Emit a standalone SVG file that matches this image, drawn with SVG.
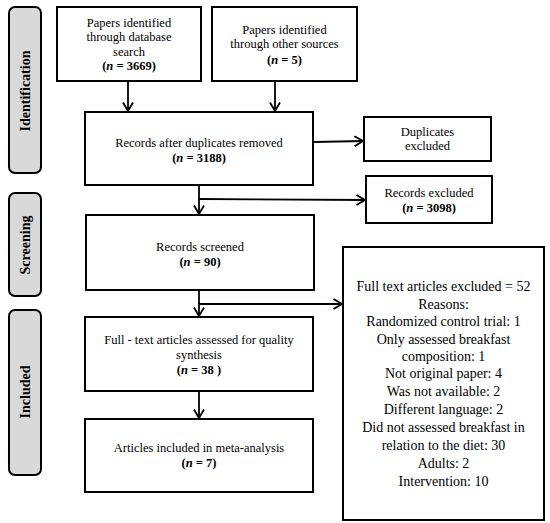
<svg xmlns="http://www.w3.org/2000/svg" width="550" height="523" viewBox="0 0 550 523">
<style>
.box{fill:#fff;stroke:#000;stroke-width:2}
.side{fill:#d9d9d9;stroke:#000;stroke-width:2}
.t{font-family:"Liberation Serif","Times New Roman",serif;font-size:12.5px;text-anchor:middle;fill:#000}
.b{font-weight:bold}
.big{font-size:14px}
.sl{font-family:"Liberation Serif","Times New Roman",serif;font-size:14px;font-weight:bold;text-anchor:middle;fill:#000}
.c{fill:none;stroke:#000;stroke-width:1.8}
</style>
<defs>
<marker id="ah" viewBox="0 0 10 12" refX="9.5" refY="6" markerWidth="10" markerHeight="12" markerUnits="userSpaceOnUse" orient="auto">
<path d="M1,1 L9.5,6 L1,11" fill="none" stroke="#000" stroke-width="1.8"/>
</marker>
</defs>
<rect width="550" height="523" fill="#fff"/>
<g id="phase-identification">
<rect class="side" x="9" y="7" width="32" height="166" rx="6"/>
<text class="sl" transform="translate(30,91) rotate(-90)">Identification</text>
</g>
<g id="phase-screening">
<rect class="side" x="9" y="193" width="32" height="103" rx="6"/>
<text class="sl" transform="translate(30,245) rotate(-90)">Screening</text>
</g>
<g id="phase-included">
<rect class="side" x="9" y="310" width="32" height="165" rx="6"/>
<text class="sl" transform="translate(30,392) rotate(-90)">Included</text>
</g>
<g id="db-search">
<rect class="box" x="57" y="7" width="144" height="74"/>
<text class="t" x="129" y="27">Papers identified</text>
<text class="t" x="129" y="41">through database</text>
<text class="t" x="129" y="56">search</text>
<text class="t b" x="129" y="70">(<tspan font-style="italic">n</tspan> = 3669)</text>
</g>
<g id="other-sources">
<rect class="box" x="212" y="7" width="145" height="74"/>
<text class="t" x="284.5" y="34">Papers identified</text>
<text class="t" x="284.5" y="48">through other sources</text>
<text class="t b" x="284.5" y="64">(<tspan font-style="italic">n</tspan> = 5)</text>
</g>
<g id="after-duplicates">
<rect class="box" x="85" y="112" width="228" height="73"/>
<text class="t" x="199" y="147">Records after duplicates removed</text>
<text class="t b" x="199" y="162">(<tspan font-style="italic">n</tspan> = 3188)</text>
</g>
<g id="duplicates-excluded">
<rect class="box" x="364" y="117" width="127" height="44"/>
<text class="t" x="427.5" y="136">Duplicates</text>
<text class="t" x="427.5" y="150">excluded</text>
</g>
<g id="records-excluded">
<rect class="box" x="366" y="176" width="126" height="47"/>
<text class="t" x="429" y="197">Records excluded</text>
<text class="t b" x="429" y="212">(<tspan font-style="italic">n</tspan> = 3098)</text>
</g>
<g id="records-screened">
<rect class="box" x="86" y="215" width="228" height="75"/>
<text class="t" x="200" y="251">Records screened</text>
<text class="t b" x="200" y="266">(<tspan font-style="italic">n</tspan> = 90)</text>
</g>
<g id="full-text-excluded">
<rect class="box" x="343" y="247" width="201" height="273"/>
<text class="t big" x="443.5" y="291">Full text articles excluded = 52</text>
<text class="t big" x="443.5" y="309">Reasons:</text>
<text class="t big" x="443.5" y="326">Randomized control trial: 1</text>
<text class="t big" x="443.5" y="344">Only assessed breakfast</text>
<text class="t big" x="443.5" y="361">composition: 1</text>
<text class="t big" x="443.5" y="378">Not original paper: 4</text>
<text class="t big" x="443.5" y="396">Was not available: 2</text>
<text class="t big" x="443.5" y="414">Different language: 2</text>
<text class="t big" x="443.5" y="432">Did not assessed breakfast in</text>
<text class="t big" x="443.5" y="450">relation to the diet: 30</text>
<text class="t big" x="443.5" y="468">Adults: 2</text>
<text class="t big" x="443.5" y="486">Intervention: 10</text>
</g>
<g id="full-text-assessed">
<rect class="box" x="85" y="317" width="228" height="74"/>
<text class="t" x="199" y="344">Full - text articles assessed for quality</text>
<text class="t" x="199" y="359">synthesis</text>
<text class="t b" x="199" y="374">(<tspan font-style="italic">n</tspan> = 38 )</text>
</g>
<g id="included-meta">
<rect class="box" x="85" y="419" width="228" height="73"/>
<text class="t" x="199" y="452">Articles included in meta-analysis</text>
<text class="t b" x="199" y="467">(<tspan font-style="italic">n</tspan> = 7)</text>
</g>
<g id="connectors">
<line class="c" x1="128" y1="82" x2="128" y2="111" marker-end="url(#ah)"/>
<line class="c" x1="275" y1="82" x2="275" y2="111" marker-end="url(#ah)"/>
<line class="c" x1="314" y1="142" x2="363" y2="141" marker-end="url(#ah)"/>
<line class="c" x1="199" y1="186" x2="199" y2="214" marker-end="url(#ah)"/>
<line class="c" x1="199" y1="199" x2="365" y2="200" marker-end="url(#ah)"/>
<line class="c" x1="199" y1="291" x2="199" y2="316" marker-end="url(#ah)"/>
<line class="c" x1="199" y1="304" x2="342" y2="304" marker-end="url(#ah)"/>
<line class="c" x1="199" y1="392" x2="199" y2="418" marker-end="url(#ah)"/>
</g>
</svg>
